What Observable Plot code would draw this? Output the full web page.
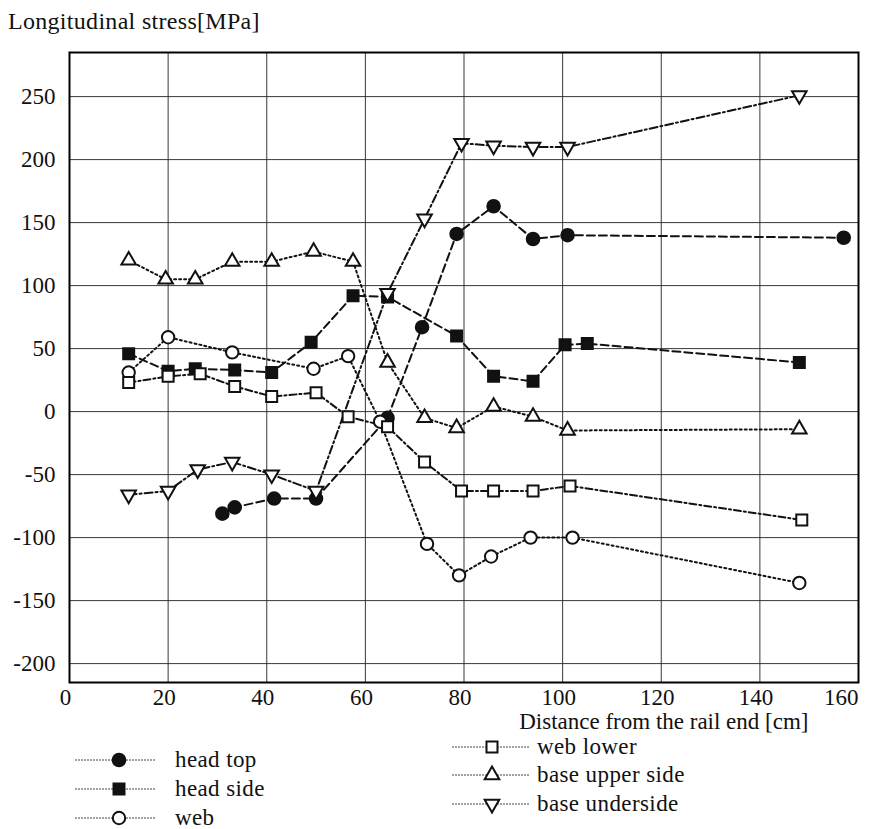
<!DOCTYPE html>
<html>
<head>
<meta charset="utf-8">
<script src="https://cdn.jsdelivr.net/npm/d3@7"></script>
<script src="https://cdn.jsdelivr.net/npm/@observablehq/plot@0.6"></script>
<style>
  body { margin: 0; background: #fff; font-family: "Liberation Serif", "Times New Roman", serif; color: #111; }
  #wrap { position: relative; width: 869px; height: 829px; overflow: hidden; }
  #title { position: absolute; left: 8px; top: 8px; font-size: 24px; letter-spacing: 0.3px; white-space: nowrap; }
  #chart { position: absolute; left: 0; top: 40px; }
  .leg { position: absolute; display: flex; align-items: center; height: 24px; line-height: 24px; font-size: 23px; letter-spacing: 0.4px; white-space: nowrap; }
  .leg svg { display: block; }
</style>
</head>
<body>
<div id="wrap">
  <div id="title">Longitudinal stress[MPa]</div>
  <div id="chart"></div>
</div>
<script>
const serif = "'Liberation Serif', 'Times New Roman', serif";

// Axis ticks
const xTicks = [0, 20, 40, 60, 80, 100, 120, 140, 160];
const yTicks = [-200, -150, -100, -50, 0, 50, 100, 150, 200, 250];

// Measured longitudinal stress [MPa] against distance from the rail end [cm]
const headTopX = [31, 33.5, 41.5, 50, 64.5, 71.5, 78.5, 86, 94, 101, 157];
const headTopY = [-81, -76, -69, -69, -5, 67, 141, 163, 137, 140, 138];

const headSideX = [12, 20, 25.5, 33.5, 41, 49, 57.5, 64.5, 78.5, 86, 94, 100.5, 105, 148];
const headSideY = [46, 32, 34, 33, 31, 55, 92, 91, 60, 28, 24, 53, 54, 39];

const webX = [12, 20, 33, 49.5, 56.5, 63, 72.5, 79, 85.5, 93.5, 102, 148];
const webY = [31, 59, 47, 34, 44, -8, -105, -130, -115, -100, -100, -136];

const webLowerX = [12, 20, 26.5, 33.5, 41, 50, 56.5, 64.5, 72, 79.5, 86, 94, 101.5, 148.5];
const webLowerY = [23, 28, 30, 20, 12, 15, -4, -12, -40, -63, -63, -63, -59, -86];

const baseUpperX = [12, 19.5, 25.5, 33, 41, 49.5, 57.5, 64.5, 72, 78.5, 86, 94, 101, 148];
const baseUpperY = [120, 105, 105, 119, 119, 127, 119, 39, -5, -13, 4, -4, -15, -14];

const baseUnderX = [12, 20, 26, 33, 41, 50, 64.5, 72, 79.5, 86, 94, 101, 148];
const baseUnderY = [-66, -63, -46, -40, -50, -63, 94, 153, 213, 211, 210, 210, 251];

const seriesNames = ["head top", "head side", "web", "web lower", "base upper side", "base underside"];

// Drawing style of each series
const series = [
  {name: seriesNames[0], x: headTopX,   y: headTopY,   symbol: "circle",   rotate: 0,   filled: true,  r: 6.3, dash: "8,4"},
  {name: seriesNames[1], x: headSideX,  y: headSideY,  symbol: "square",   rotate: 0,   filled: true,  r: 6.2, dash: "8,4"},
  {name: seriesNames[2], x: webX,       y: webY,       symbol: "circle",   rotate: 0,   filled: false, r: 6.2, dash: "2,3"},
  {name: seriesNames[3], x: webLowerX,  y: webLowerY,  symbol: "square",   rotate: 0,   filled: false, r: 6.2, dash: "7,3,2,3"},
  {name: seriesNames[4], x: baseUpperX, y: baseUpperY, symbol: "triangle", rotate: 0,   filled: false, r: 5.4, dash: "2,3"},
  {name: seriesNames[5], x: baseUnderX, y: baseUnderY, symbol: "triangle", rotate: 180, filled: false, r: 5.4, dash: "8,3,2,3"}
];

const rowsOf = s => s.x.map((d, i) => ({series: s.name, dist: d, stress: s.y[i]}));

const xTitle = "Distance from the rail end [cm]";

const lineMarks = series.map(s => Plot.line(rowsOf(s), {
  x: "dist", y: "stress", stroke: "#111", strokeWidth: 2, strokeDasharray: s.dash
}));
const dotMarks = series.map(s => Plot.dot(rowsOf(s), {
  x: "dist", y: "stress", symbol: s.symbol, r: s.r, rotate: s.rotate,
  fill: s.filled ? "#111" : "#fff", stroke: "#111", strokeWidth: 2
}));

const axisText = {tickSize: 0, fontSize: 23, fontFamily: serif, fill: "#111", tickFormat: d => String(d), label: null};

const chart = Plot.plot({
  width: 869,
  height: 712,
  marginTop: 12,
  marginBottom: 70,
  marginLeft: 69,
  marginRight: 11,
  style: {fontFamily: serif, fontSize: "23px", color: "#111", background: "#fff"},
  x: {domain: [0, 160], label: null},
  y: {domain: [-215, 285], label: null},
  marks: [
    Plot.gridX(xTicks, {stroke: "#222", strokeOpacity: 0.9, strokeWidth: 1}),
    Plot.gridY(yTicks, {stroke: "#222", strokeOpacity: 0.9, strokeWidth: 1}),
    Plot.axisX(xTicks.slice(0, -1), {...axisText, tickPadding: 6, dx: -4}),
    Plot.axisX(xTicks.slice(-1), {...axisText, tickPadding: 6, textAnchor: "end"}),
    Plot.axisY(yTicks, {...axisText, tickPadding: 14}),
    ...lineMarks,
    ...dotMarks,
    Plot.frame({stroke: "#000", strokeWidth: 2}),
    Plot.text([xTitle], {frameAnchor: "bottom-right", textAnchor: "end", lineAnchor: "middle", dx: -50, dy: 39, fontSize: 23, fontFamily: serif, fill: "#111"})
  ]
});
document.getElementById("chart").appendChild(chart);

// Legend: two columns of line + marker samples
const legendPlacement = [
  {left: 75,  top: 760, width: 80, mark: 44, gap: 20},
  {left: 75,  top: 789, width: 80, mark: 44, gap: 20},
  {left: 75,  top: 818, width: 80, mark: 44, gap: 20},
  {left: 452, top: 747, width: 78, mark: 40, gap: 7},
  {left: 452, top: 775, width: 78, mark: 40, gap: 7},
  {left: 452, top: 804, width: 78, mark: 40, gap: 7}
];
const symbolTypes = {circle: d3.symbolCircle, square: d3.symbolSquare, triangle: d3.symbolTriangle};
const wrap = document.getElementById("wrap");
series.forEach((s, i) => {
  const p = legendPlacement[i];
  const row = document.createElement("div");
  row.className = "leg";
  row.style.left = p.left + "px";
  row.style.top = (p.top - 12) + "px";
  const svg = d3.create("svg").attr("width", p.width).attr("height", 24);
  svg.append("line").attr("x1", 0).attr("x2", p.width).attr("y1", 12).attr("y2", 12)
    .attr("stroke", "#444").attr("stroke-width", 1).attr("stroke-dasharray", "2,1");
  const size = Math.PI * s.r * s.r;
  svg.append("path")
    .attr("d", d3.symbol(symbolTypes[s.symbol], size)())
    .attr("transform", `translate(${p.mark},12) rotate(${s.rotate})`)
    .attr("fill", s.filled ? "#111" : "#fff").attr("stroke", "#111").attr("stroke-width", 2);
  row.appendChild(svg.node());
  const label = document.createElement("span");
  label.style.marginLeft = p.gap + "px";
  label.textContent = s.name;
  row.appendChild(label);
  wrap.appendChild(row);
});
</script>
</body>
</html>
